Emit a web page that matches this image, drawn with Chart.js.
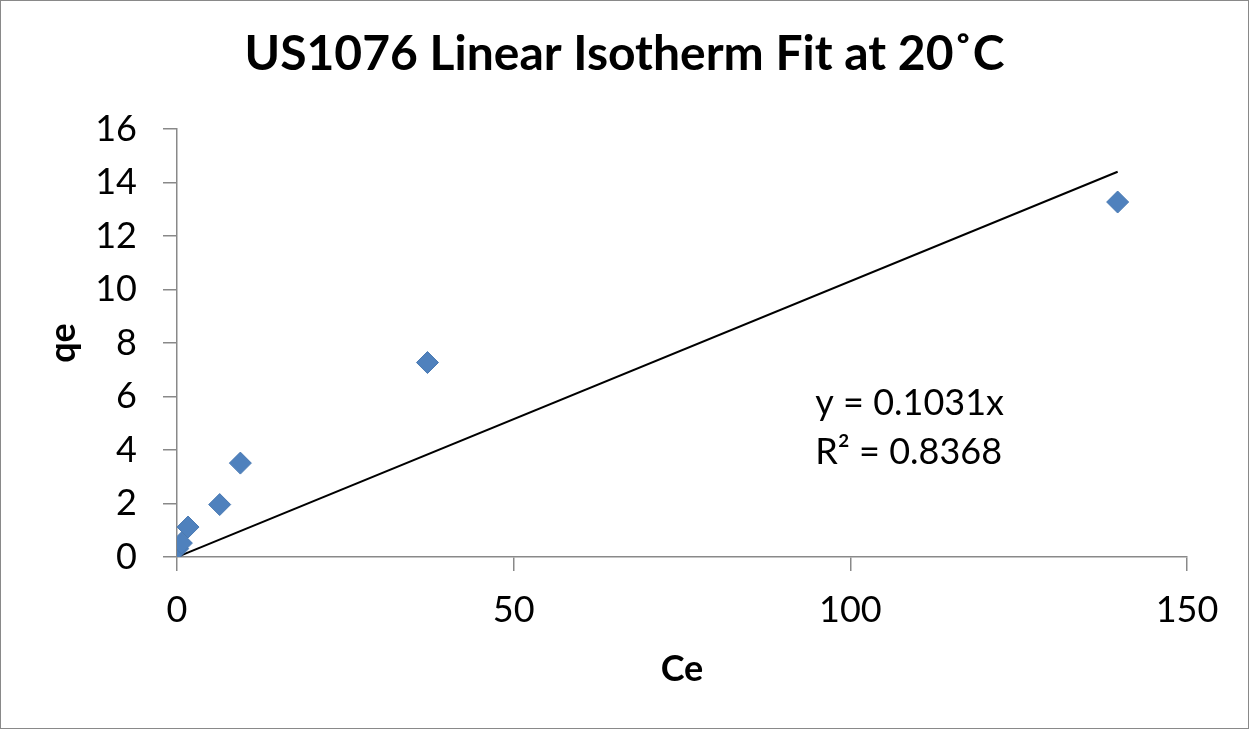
<!DOCTYPE html>
<html>
<head>
<meta charset="utf-8">
<title>US1076 Linear Isotherm Fit at 20˚C</title>
<script src="https://cdn.jsdelivr.net/npm/chart.js@4.4.1/dist/chart.umd.min.js"></script>
<style>
    html, body { margin: 0; padding: 0; background: #fff; }
    #wrap { width: 1249px; height: 729px; position: relative; }
</style>
</head>
<body>
<div id="wrap"><canvas id="isothermChart"></canvas></div>
<script>
// measured equilibrium points
const ceValues = [0.1, 0.65, 1.64, 6.34, 9.41, 37.2, 139.7];
const qeValues = [0.31, 0.52, 1.12, 1.96, 3.51, 7.27, 13.27];

// fitted line through the origin
const fitSlope = 0.1031;
const fitR2 = 0.8368;

const xTicks = [0, 50, 100, 150];
const yTicks = [0, 2, 4, 6, 8, 10, 12, 14, 16];

const axisGray = '#898989';
const fontFamily = 'Lato, "Open Sans", sans-serif';

const points = ceValues.map((ce, i) => ({ x: ce, y: qeValues[i] }));
const maxCe = Math.max(...ceValues);
const fitLine = [
    { x: 0, y: 0 },
    { x: maxCe, y: fitSlope * maxCe }
];

const frameAndLabel = {
    id: 'frameAndLabel',
    beforeDraw(chart) {
        const { ctx, width, height } = chart;
        ctx.save();
        ctx.fillStyle = '#fff';
        ctx.fillRect(0, 0, width, height);
        ctx.restore();
    },
    afterDraw(chart) {
        const { ctx, width, height, chartArea } = chart;
        ctx.save();
        ctx.strokeStyle = axisGray;
        ctx.lineWidth = 1;
        ctx.strokeRect(0.5, 0.5, width - 1, height - 1);

        // regression equation text
        ctx.fillStyle = '#000';
        ctx.font = '36px ' + fontFamily;
        ctx.textBaseline = 'middle';
        ctx.textAlign = 'left';
        const tx = chartArea.left + (chartArea.right - chartArea.left) * 0.632;
        ctx.fillText('y = ' + fitSlope.toFixed(4) + 'x', tx, 403);
        ctx.fillText('R² = ' + fitR2.toFixed(4), tx, 452);
        ctx.restore();
    }
};

new Chart(document.getElementById('isothermChart'), {
    type: 'scatter',
    data: {
        datasets: [
            {
                label: 'qe',
                data: points,
                pointStyle: 'rectRot',
                pointRadius: 11,
                pointHoverRadius: 11,
                backgroundColor: '#4f81bd',
                borderColor: '#4a7ab3',
                borderWidth: 1,
                order: 1
            },
            {
                label: 'Linear fit',
                type: 'line',
                data: fitLine,
                borderColor: '#000',
                borderWidth: 2,
                pointRadius: 0,
                fill: false,
                order: 2
            }
        ]
    },
    plugins: [frameAndLabel],
    options: {
        responsive: true,
        maintainAspectRatio: false,
        animation: false,
        layout: {
            padding: 0
        },
        plugins: {
            legend: { display: false },
            tooltip: { enabled: false },
            title: {
                display: true,
                text: 'US1076 Linear Isotherm Fit at 20˚C',
                color: '#000',
                font: { family: fontFamily, size: 48, weight: 'bold', lineHeight: 1.2 },
                padding: { top: 26, bottom: 45.4 }
            }
        },
        scales: {
            x: {
                type: 'linear',
                min: 0,
                max: 150,
                afterBuildTicks(scale) {
                    scale.ticks = xTicks.map(v => ({ value: v }));
                },
                afterFit(scale) {
                    scale.height = 172;
                },
                grid: {
                    drawOnChartArea: false,
                    drawTicks: true,
                    tickLength: 14,
                    color: axisGray,
                    lineWidth: 1.5
                },
                border: { color: axisGray, width: 1.5 },
                ticks: {
                    color: '#000',
                    padding: 18,
                    font: { family: fontFamily, size: 36 }
                },
                title: {
                    display: true,
                    text: 'Ce',
                    color: '#000',
                    font: { family: fontFamily, size: 36, weight: 'bold', lineHeight: 1.2 },
                    padding: { top: 0, bottom: 38 }
                }
            },
            y: {
                type: 'linear',
                min: 0,
                max: 16,
                afterBuildTicks(scale) {
                    scale.ticks = yTicks.map(v => ({ value: v }));
                },
                afterFit(scale) {
                    scale.width = 177;
                },
                grid: {
                    drawOnChartArea: false,
                    drawTicks: true,
                    tickLength: 14,
                    color: axisGray,
                    lineWidth: 1.5
                },
                border: { color: axisGray, width: 1.5 },
                ticks: {
                    color: '#000',
                    padding: 26,
                    font: { family: fontFamily, size: 36 }
                },
                title: {
                    display: true,
                    text: 'qe',
                    color: '#000',
                    font: { family: fontFamily, size: 36, weight: 'bold', lineHeight: 1.2 },
                    padding: { top: 42, bottom: 0 }
                }
            },
            // empty right-hand margin so the plot ends at 150
            yRight: {
                position: 'right',
                display: true,
                afterFit(scale) {
                    scale.width = 62;
                },
                grid: { display: false },
                border: { display: false },
                ticks: { display: false }
            }
        }
    }
});
</script>
</body>
</html>
